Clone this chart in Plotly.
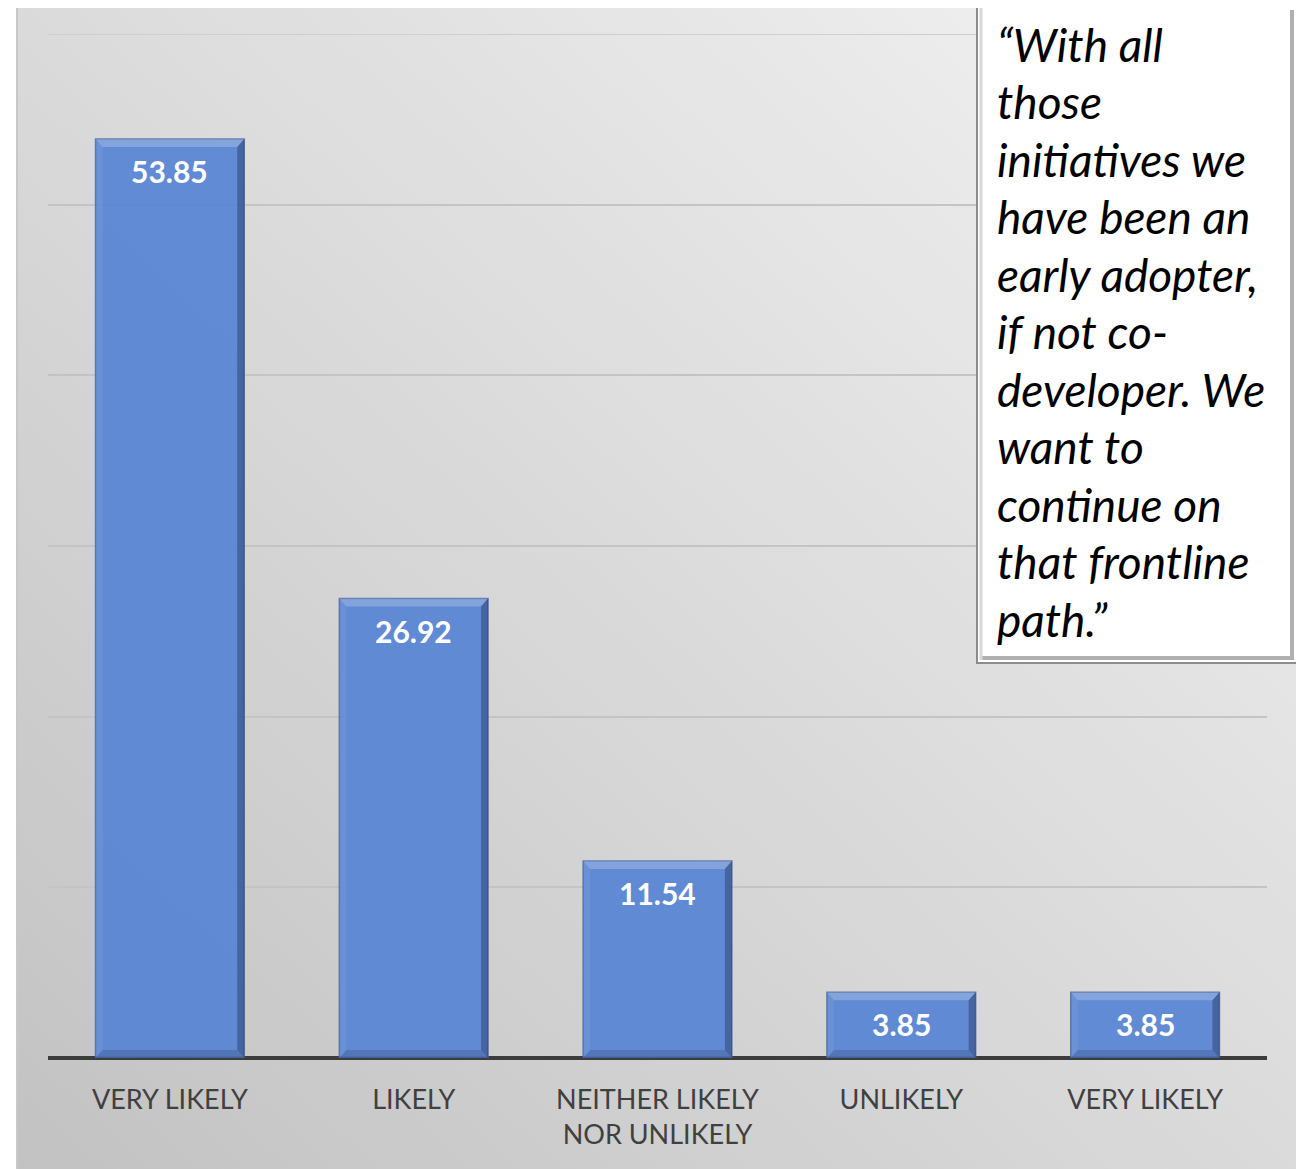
import base64
import plotly.graph_objects as go

categories = ["VERY LIKELY", "LIKELY", "NEITHER LIKELY<br>NOR UNLIKELY", "UNLIKELY", "VERY LIKELY"]
values = [53.85, 26.92, 11.54, 3.85, 3.85]
value_labels = ["53.85", "26.92", "11.54", "3.85", "3.85"]
y_ticks = [0, 10, 20, 30, 40, 50, 60]
quote_lines = [
    "\u201cWith all",
    "those",
    "initiatives we",
    "have been an",
    "early adopter,",
    "if not co-",
    "developer. We",
    "want to",
    "continue on",
    "that frontline",
    "path.\u201d",
]

OFF = 8  # page body margin
W, H = 1304 - OFF, 1169 - OFF
L, R, T, B = 48, 1267, 34, 1058  # plot area in screen pixels


def xp(px):
    return (px - L) / (R - L)


def yp(py):
    return (B - py) / (B - T)


x_pos = list(range(len(categories)))
BW = 0.61

fig = go.Figure()
fig.add_trace(go.Bar(
    x=x_pos,
    y=values,
    width=BW,
    marker=dict(color="rgba(88,132,212,0.93)",
                line=dict(color="rgba(70,100,160,0.8)", width=1.5)),
    hoverinfo="skip",
    showlegend=False,
))

# background gradient (diagonal)
svg = (
    '<svg xmlns="http://www.w3.org/2000/svg" width="100" height="100" preserveAspectRatio="none">'
    '<defs><linearGradient id="g" x1="1" y1="0" x2="0" y2="1">'
    '<stop offset="0" stop-color="#f3f3f3"/>'
    '<stop offset="1" stop-color="#c2c2c2"/>'
    '</linearGradient></defs>'
    '<rect width="100" height="100" fill="url(#g)"/></svg>'
)
src = "data:image/svg+xml;base64," + base64.b64encode(svg.encode()).decode()
fig.add_layout_image(dict(
    source=src, xref="paper", yref="paper",
    x=xp(18), y=yp(5), sizex=xp(1300) - xp(18), sizey=yp(5) - yp(1175),
    xanchor="left", yanchor="top", sizing="stretch", layer="below",
))

shapes = []
# top gridline at range max
shapes.append(dict(type="line", xref="paper", yref="y", x0=0, x1=1, y0=y_ticks[-1], y1=y_ticks[-1],
                   line=dict(color="#cfcfcf", width=2), layer="below"))
# bevel effect on bars
px_per_unit = (B - T) / (y_ticks[-1] - y_ticks[0])
bev = 8 / px_per_unit
side = 7 / ((R - L) / len(categories))
for i, v in enumerate(values):
    x0, x1 = i - BW / 2, i + BW / 2
    # top light band
    shapes.append(dict(type="path", xref="x", yref="y",
                       path=f"M{x0},{v} L{x1},{v} L{x1 - side},{v - bev} L{x0 + side},{v - bev} Z",
                       fillcolor="rgba(255,255,255,0.22)", line=dict(width=0)))
    # right dark band
    shapes.append(dict(type="path", xref="x", yref="y",
                       path=f"M{x1},{v} L{x1},{0} L{x1 - side},{bev} L{x1 - side},{v - bev} Z",
                       fillcolor="rgba(20,30,60,0.35)", line=dict(width=0)))
    # bottom dark band
    shapes.append(dict(type="path", xref="x", yref="y",
                       path=f"M{x0},0 L{x1},0 L{x1 - side},{bev} L{x0 + side},{bev} Z",
                       fillcolor="rgba(20,30,60,0.18)", line=dict(width=0)))
    # left light-ish band
    shapes.append(dict(type="path", xref="x", yref="y",
                       path=f"M{x0},{v} L{x0},0 L{x0 + side},{bev} L{x0 + side},{v - bev} Z",
                       fillcolor="rgba(255,255,255,0.06)", line=dict(width=0)))

# panel border (top and left)
shapes.append(dict(type="line", xref="paper", yref="paper",
                   x0=xp(17), x1=xp(1300), y0=yp(5), y1=yp(5),
                   line=dict(color="#b8b8b8", width=2)))
shapes.append(dict(type="line", xref="paper", yref="paper",
                   x0=xp(17), x1=xp(17), y0=yp(5), y1=yp(1175),
                   line=dict(color="#c8c8c8", width=2)))
# quote box
shapes.append(dict(type="rect", xref="paper", yref="paper",
                   x0=xp(977), x1=xp(1297), y0=yp(663), y1=yp(5),
                   fillcolor="white", line=dict(color="#8c8c8c", width=2), layer="above"))
shapes.append(dict(type="line", xref="paper", yref="paper",
                   x0=xp(1292), x1=xp(1292), y0=yp(658), y1=yp(10),
                   line=dict(color="#b0b0b0", width=4), layer="above"))
shapes.append(dict(type="line", xref="paper", yref="paper",
                   x0=xp(980), x1=xp(1294), y0=yp(658), y1=yp(658),
                   line=dict(color="#b0b0b0", width=4), layer="above"))
shapes.append(dict(type="line", xref="paper", yref="paper",
                   x0=xp(981), x1=xp(981), y0=yp(660), y1=yp(8),
                   line=dict(color="#d8d8d8", width=3), layer="above"))

annotations = []
for i, (v, lab) in enumerate(zip(values, value_labels)):
    annotations.append(dict(x=i, y=v, xref="x", yref="y", text="<b>" + lab + "</b>",
                            showarrow=False, yanchor="middle", yshift=-32,
                            font=dict(family="Lato", size=30, color="white")))

for j, line in enumerate(quote_lines):
    annotations.append(dict(x=xp(995), y=yp(44 + j * 57.5), xref="paper", yref="paper",
                            text="<i>" + line + "</i>", showarrow=False,
                            xanchor="left", yanchor="middle",
                            font=dict(family="Lato", size=46, color="black")))

fig.update_layout(
    width=W, height=H,
    margin=dict(l=L - OFF, r=W - (R - OFF), t=T - OFF, b=H - (B - OFF), pad=0),
    paper_bgcolor="white",
    plot_bgcolor="rgba(0,0,0,0)",
    shapes=shapes,
    annotations=annotations,
    xaxis=dict(
        tickvals=x_pos, ticktext=categories, range=[-0.5, len(categories) - 0.5],
        showgrid=False, zeroline=False, showline=False, ticks="",
        tickfont=dict(family="Lato", size=27, color="#404040"),
        ticklabelstandoff=23,
    ),
    yaxis=dict(
        range=[y_ticks[0], y_ticks[-1]], tickvals=y_ticks, showticklabels=False,
        showgrid=True, gridcolor="#c4c4c4", gridwidth=2,
        zeroline=True, zerolinecolor="#3c3c3c", zerolinewidth=4,
        showline=False, ticks="",
    ),
)

fig.write_html("out.html")
